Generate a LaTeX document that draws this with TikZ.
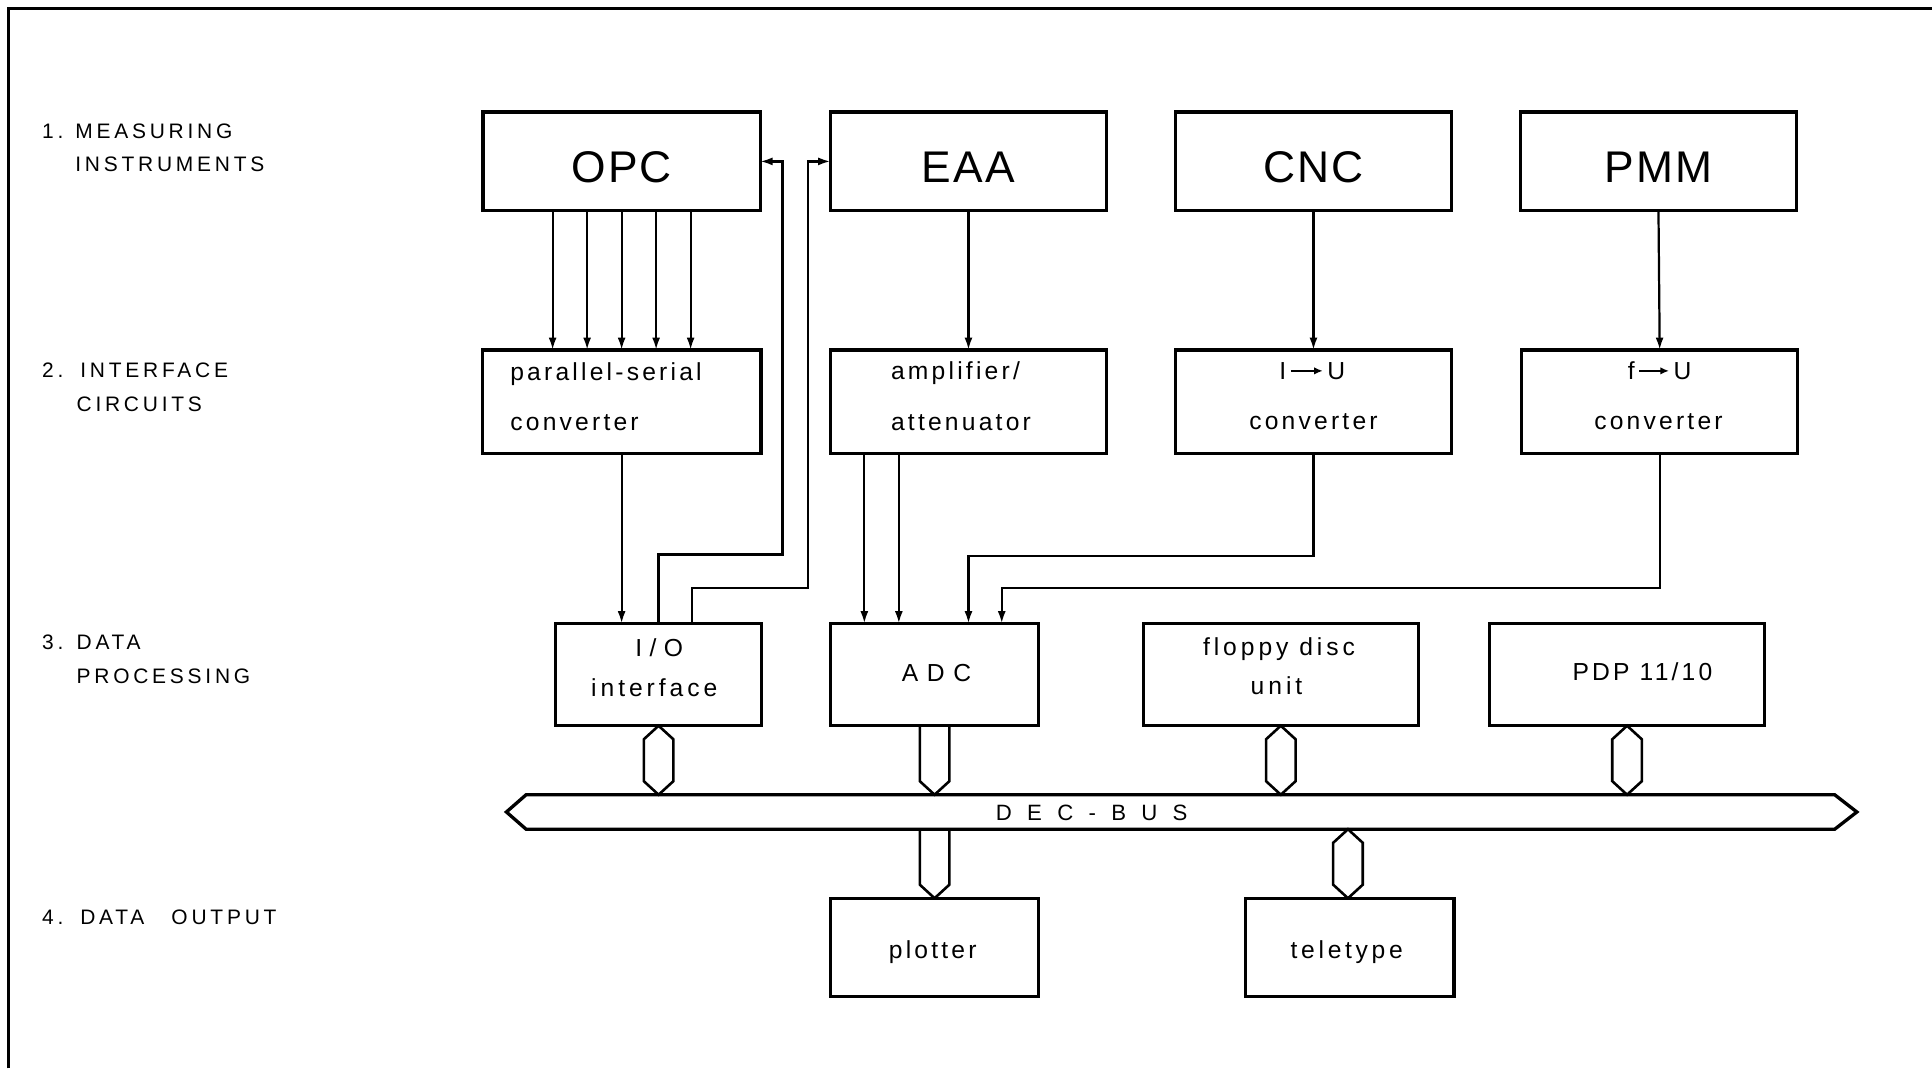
\documentclass[tikz,border=0pt]{standalone}
\usepackage{fontspec}
\setmainfont{Liberation Sans}
\usetikzlibrary{arrows.meta}

% size and tracking of a label font
\newcommand\lettersize[2]{\fontsize{#1}{#1}\selectfont\addfontfeatures{LetterSpace=#2}}
% short filled arrow used inside converter labels
\newcommand\convarrow[1]{\hspace{3pt}\tikz[baseline=-7pt]\draw[line width=1.5pt,-{Latex[length=7pt,width=6pt]}] (0pt,0pt) -- (#1pt,0pt);\hspace{3pt}}
% bus taps: pointed at both ends, or pointed at the lower end only
\newcommand\twotip[2]{\draw[stub] (#1) -- ([shift={(12,11)}]#1) -- ([shift={(12,-11)}]#2) -- (#2) -- ([shift={(-12,-11)}]#2) -- ([shift={(-12,11)}]#1) -- cycle;}
\newcommand\onetip[2]{\draw[stub] ([shift={(-12,0)}]#1) -- ([shift={(-12,-11)}]#2) -- (#2) -- ([shift={(12,-11)}]#2) -- ([shift={(12,0)}]#1);}

\begin{document}
\begin{tikzpicture}[x=1pt,y=-1pt,
  box/.style={draw, line width=2.7pt, inner sep=0pt, outer sep=0pt},
  wire/.style={line width=1.8pt},
  arr/.style={wire, -{Latex[length=10pt,width=6.5pt]}},
  stub/.style={line width=2.1pt, line join=miter},
  head/.style={anchor=base, inner sep=0pt, font=\lettersize{36}{5}},
  txt/.style={anchor=base, inner sep=0pt, font=\lettersize{20}{13}},
  txtl/.style={anchor=base west, inner sep=0pt, font=\lettersize{20}{13}},
  side/.style={anchor=base west, inner sep=0pt, font=\lettersize{17}{18}},
]
\useasboundingbox (0,0) rectangle (1568,867);

% sheet frame
\draw[line width=2pt] (7,867) -- (7,7) -- (1568,7);

% level captions
\node[side] (n1) at (34,112) {1.};
\node[side] (l1a) at (61,112) {MEASURING};
\node[side] (l1b) at (61,139) {INSTRUMENTS};
\node[side] (n2) at (34,306) {2.};
\node[side] (l2a) at (65,306) {INTERFACE};
\node[side] (l2b) at (62,334) {CIRCUITS};
\node[side] (n3) at (34,527) {3.};
\node[side] (l3a) at (62,527) {DATA};
\node[side] (l3b) at (62,555) {PROCESSING};
\node[side] (n4) at (34,750) {4.};
\node[side] (l4a) at (65,750) {DATA\hspace{22pt}OUTPUT};

% measuring instruments
\node[box, minimum width=225, minimum height=80] (opc) at (504.5,131) {};
\node[box, minimum width=224, minimum height=80] (eaa) at (786,131) {};
\node[box, minimum width=224, minimum height=80] (cnc) at (1066,131) {};
\node[box, minimum width=224, minimum height=80] (pmm) at (1346,131) {};
\node[head] (t-opc) at (504.5,148) {OPC};
\node[head] (t-eaa) at (786,148) {EAA};
\node[head] (t-cnc) at (1066,148) {CNC};
\node[head] (t-pmm) at (1346,148) {PMM};

% interface circuits
\node[box, minimum width=226, minimum height=84] (ps) at (504.5,326) {};
\node[box, minimum width=224, minimum height=84] (amp) at (786,326) {};
\node[box, minimum width=224, minimum height=84] (iu) at (1066,326) {};
\node[box, minimum width=224, minimum height=84] (fu) at (1347,326) {};
\node[txtl] (t-ps1) at (414,309) {parallel-serial};
\node[txtl] (t-ps2) at (414,349) {converter};
\node[txtl] (t-amp1) at (723,308) {amplifier/};
\node[txtl] (t-amp2) at (723,349) {attenuator};
\node[txt] (t-iu1) at (1065,308) {I\convarrow{26}U};
\node[txt] (t-iu2) at (1066,348.5) {converter};
\node[txt] (t-fu1) at (1347,308) {f\convarrow{24}U};
\node[txt] (t-fu2) at (1346,348.5) {converter};

% data processing
\node[box, minimum width=167, minimum height=83] (io) at (534.5,547.5) {};
\node[box, minimum width=169, minimum height=83] (adc) at (758.5,547.5) {};
\node[box, minimum width=223, minimum height=83] (fdu) at (1039.5,547.5) {};
\node[box, minimum width=223, minimum height=83] (pdp) at (1320.5,547.5) {};
\node[txt, font=\lettersize{20}{30}] (t-io1) at (535,533) {I/O};
\node[txt, font=\lettersize{20}{16}] (t-io2) at (531,565) {interface};
\node[txt, font=\lettersize{20}{35}] (t-adc) at (760,553) {ADC};
\node[txt, font=\lettersize{20}{16}] (t-fdu1) at (1038,532) {floppy disc};
\node[txt, font=\lettersize{20}{16}] (t-fdu2) at (1036,564) {unit};
\node[txt] (t-pdp) at (1333,552) {PDP 11/10};

% data output
\node[box, minimum width=169, minimum height=80] (plot) at (758.5,769) {};
\node[box, minimum width=169, minimum height=80] (tty) at (1095.5,769) {};
\node[txt] (t-plot) at (757,778) {plotter};
\node[txt, font=\lettersize{20}{15}] (t-tty) at (1093,778) {teletype};

% DEC bus
\draw[line width=2.7pt, line join=miter] (411,659) -- (427,645) -- (1489,645) -- (1507,659) -- (1489,673) -- (427,673) -- cycle;
\coordinate (bustop) at (0,645);
\coordinate (busbot) at (0,673);
\node[anchor=base, inner sep=0pt, font=\lettersize{18}{69}] (t-bus) at (886,665.5) {DEC-BUS};

% taps onto the bus
\coordinate (s-io-a) at (io.south);   \coordinate (s-io-b) at (io.south |- bustop);
\coordinate (s-adc-a) at (adc.south); \coordinate (s-adc-b) at (adc.south |- bustop);
\coordinate (s-fdu-a) at (fdu.south); \coordinate (s-fdu-b) at (fdu.south |- bustop);
\coordinate (s-pdp-a) at (pdp.south); \coordinate (s-pdp-b) at (pdp.south |- bustop);
\coordinate (s-pl-a) at (plot.north |- busbot); \coordinate (s-pl-b) at (plot.north);
\coordinate (s-tt-a) at ([xshift=-1.5pt]tty.north |- busbot); \coordinate (s-tt-b) at ([xshift=-1.5pt]tty.north);
\twotip{s-io-a}{s-io-b}
\onetip{s-adc-a}{s-adc-b}
\twotip{s-fdu-a}{s-fdu-b}
\twotip{s-pdp-a}{s-pdp-b}
\onetip{s-pl-a}{s-pl-b}
\twotip{s-tt-a}{s-tt-b}

% signal lines
\foreach \d in {-56,-28,0,28,56}
  \draw[arr] ([xshift=\d pt]opc.south) -- ([xshift=\d pt]ps.north);
\draw[arr] (ps.south) -- (ps.south |- io.north);

\coordinate (j1) at (635,450);
\coordinate (j2) at (656,477);
\coordinate (j3) at (786,451);
\coordinate (j4) at (813,477);
\path ([xshift=27pt]io.north) coordinate (io2)
      ([xshift=-84.5pt]amp.south) coordinate (a1)
      ([xshift=-56.5pt]amp.south) coordinate (a2);

\draw[arr] (io.north) |- (j1) |- (opc.east);
\draw[arr] (io2) |- (j2) |- (eaa.west);
\draw[arr] (eaa.south) -- (amp.north);
\draw[arr] (a1) -- (a1 |- adc.north);
\draw[arr] (a2) -- (a2 |- adc.north);
\draw[arr] (cnc.south) -- (iu.north);
\draw[arr] (iu.south) |- (j3) -- (j3 |- adc.north);
\draw[arr] (pmm.south) -- (fu.north);
\draw[arr] (fu.south) |- (j4) -- (j4 |- adc.north);
\end{tikzpicture}
\end{document}
